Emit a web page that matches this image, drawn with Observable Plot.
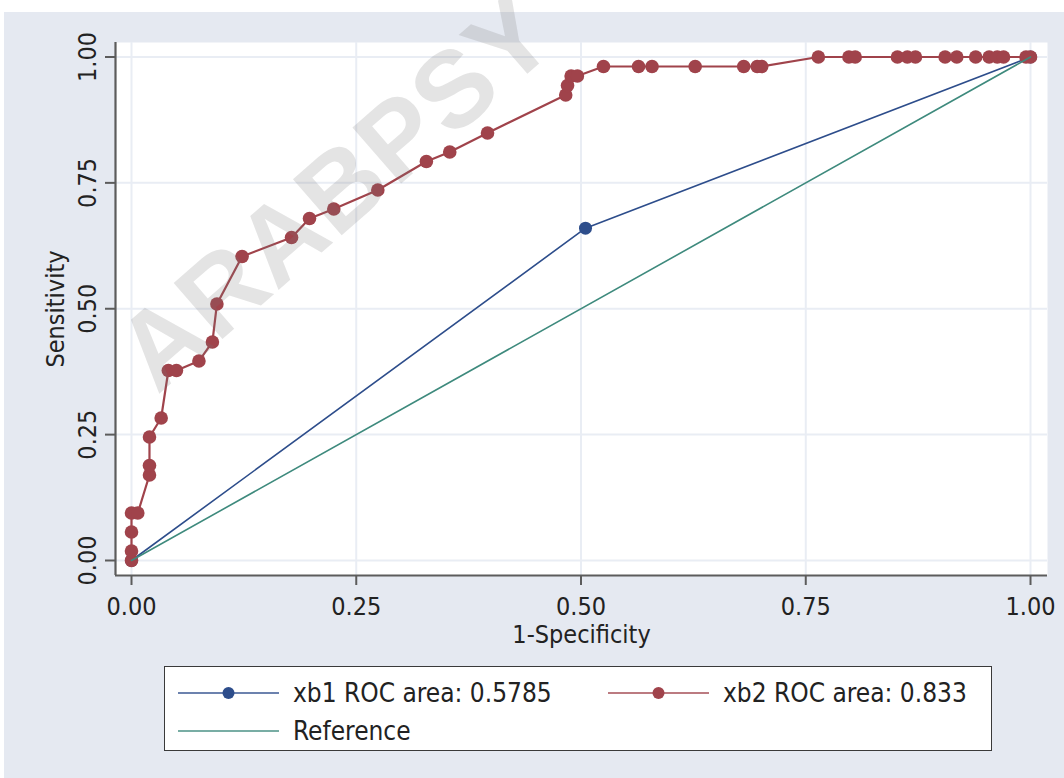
<!DOCTYPE html>
<html>
<head>
<meta charset="utf-8">
<script src="https://cdn.jsdelivr.net/npm/d3@7"></script>
<script src="https://cdn.jsdelivr.net/npm/@observablehq/plot@0.6"></script>
<style>
  html, body { margin: 0; padding: 0; background: #ffffff; width: 1064px; height: 778px; overflow: hidden; }
  #bg { position: absolute; left: 4px; top: 12px; width: 1060px; height: 766px; background: #e5e9f1; }
  #chart { position: absolute; left: 0; top: 0; }
  #legend { position: absolute; left: 164px; top: 666px; width: 828px; height: 85px; background: #fff;
            border: 1.5px solid #3a3a3a; box-sizing: border-box;
            font-family: "DejaVu Sans Condensed", "DejaVu Sans", sans-serif; font-stretch: condensed; font-size: 26px; color: #222; }
  .item { position: absolute; display: flex; align-items: center; height: 30px; }
  .item svg { margin-right: 14px; }
  #wm { position: absolute; left: 335px; top: 192px; transform: translate(-50%, -50%) rotate(-41deg);
        font-family: "Liberation Sans", Arial, sans-serif; font-weight: bold; font-size: 108px; line-height: 1;
        color: rgba(120,120,120,0.2); white-space: nowrap; pointer-events: none; letter-spacing: 1px; }
</style>
</head>
<body>
<div id="bg"></div>
<div id="chart"></div>
<div id="legend"></div>
<div id="wm">ARABPSY</div>
<script>
// ---- data ----
const xTicks = [0, 0.25, 0.5, 0.75, 1];
const yTicks = [0, 0.25, 0.5, 0.75, 1];
const xTitle = "1-Specificity";
const yTitle = "Sensitivity";

const xb1FPR  = [0, 0.505, 1];
const xb1Sens = [0, 0.660, 1];

const xb2FPR  = [0, 0, 0, 0, 0.007, 0.02, 0.02, 0.02, 0.033, 0.041, 0.05, 0.075, 0.09, 0.095, 0.123,
                 0.178, 0.198, 0.225, 0.274, 0.328, 0.354, 0.396, 0.483, 0.485, 0.489, 0.496,
                 0.525, 0.564, 0.579, 0.627, 0.681, 0.696, 0.701,
                 0.764, 0.798, 0.805, 0.852, 0.863, 0.872, 0.905, 0.918, 0.939, 0.954, 0.963, 0.970, 0.995, 1];
const xb2Sens = [0, 0.0189, 0.0566, 0.0943, 0.0943, 0.1698, 0.1887, 0.2453, 0.2830, 0.3774, 0.3774, 0.3962, 0.4340, 0.5094, 0.6038,
                 0.6415, 0.6792, 0.6981, 0.7358, 0.7925, 0.8113, 0.8491, 0.9245, 0.9434, 0.9623, 0.9623,
                 0.9811, 0.9811, 0.9811, 0.9811, 0.9811, 0.9811, 0.9811,
                 1, 1, 1, 1, 1, 1, 1, 1, 1, 1, 1, 1, 1, 1];

const refX = [0, 1];
const refY = [0, 1];

const legendLabels = ["xb1 ROC area: 0.5785", "xb2 ROC area: 0.833", "Reference"];

// ---- styles ----
const BLUE = "#2d4d8b";
const RED = "#a0434b";
const TEAL = "#3e8a7d";
const AXIS = "#5c5c5c";
const GRID = "#e9edf4";
const FONT = `"DejaVu Sans Condensed", "DejaVu Sans", sans-serif`;
const FS = 25;

const xb1 = xb1FPR.map((x, i) => ({x, y: xb1Sens[i]}));
const xb2 = xb2FPR.map((x, i) => ({x, y: xb2Sens[i]}));
const ref = refX.map((x, i) => ({x, y: refY[i]}));

const xDomain = [-0.0178, 1.0189];
const yDomain = [-0.0298, 1.0288];
const fmt = d3.format(".2f");

const chart = Plot.plot({
  width: 1064,
  height: 655,
  marginLeft: 115,
  marginRight: 17,
  marginTop: 42,
  marginBottom: 80,
  style: {background: "transparent", fontFamily: FONT, fontStretch: "condensed"},
  x: {domain: xDomain, axis: null},
  y: {domain: yDomain, axis: null},
  marks: [
    Plot.frame({fill: "white", stroke: null}),
    Plot.ruleX(xTicks, {stroke: GRID, strokeWidth: 2}),
    Plot.ruleY(yTicks, {stroke: GRID, strokeWidth: 2}),
    Plot.line(xb1, {x: "x", y: "y", stroke: BLUE, strokeWidth: 1.6}),
    Plot.dot(xb1, {x: "x", y: "y", r: 6.5, fill: BLUE, stroke: null}),
    Plot.line(xb2, {x: "x", y: "y", stroke: RED, strokeWidth: 2.2}),
    Plot.dot(xb2, {x: "x", y: "y", r: 6.8, fill: RED, stroke: null}),
    Plot.line(ref, {x: "x", y: "y", stroke: TEAL, strokeWidth: 1.6}),
    Plot.ruleX([xDomain[0]], {stroke: AXIS, strokeWidth: 2.2}),
    Plot.ruleY([yDomain[0]], {stroke: AXIS, strokeWidth: 2.2}),
    Plot.axisX(xTicks, {anchor: "bottom", tickSize: 10, tickFormat: () => "", label: null, color: AXIS, strokeWidth: 2}),
    Plot.axisY(yTicks, {anchor: "left", tickSize: 10, tickFormat: () => "", label: null, color: AXIS, strokeWidth: 2}),
    Plot.text(xTicks, {x: d => d, text: d => fmt(d), frameAnchor: "bottom", lineAnchor: "middle", dy: 31, fontSize: FS, fill: "#222"}),
    Plot.text(yTicks, {y: d => d, text: d => fmt(d), frameAnchor: "left", textAnchor: "middle", lineAnchor: "middle", dx: -28, rotate: -90, fontSize: FS, fill: "#222"}),
    Plot.text([xTitle], {text: d => d, frameAnchor: "bottom", lineAnchor: "middle", dy: 59, fontSize: FS, fill: "#222"}),
    Plot.text([yTitle], {text: d => d, frameAnchor: "left", textAnchor: "middle", lineAnchor: "middle", dx: -60, rotate: -90, fontSize: FS, fill: "#222"})
  ]
});
document.getElementById("chart").appendChild(chart);

// ---- legend ----
const legend = document.getElementById("legend");
const items = [
  {label: legendLabels[0], color: BLUE, dot: true, left: 13, top: 11},
  {label: legendLabels[1], color: RED, dot: true, left: 443, top: 11},
  {label: legendLabels[2], color: TEAL, dot: false, left: 13, top: 49}
];
for (const it of items) {
  const div = document.createElement("div");
  div.className = "item";
  div.style.left = it.left + "px";
  div.style.top = it.top + "px";
  const svg = d3.create("svg").attr("width", 101).attr("height", 16);
  svg.append("line").attr("x1", 0).attr("x2", 101).attr("y1", 8).attr("y2", 8)
     .attr("stroke", it.color).attr("stroke-width", 2).attr("stroke-opacity", 0.7);
  if (it.dot) svg.append("circle").attr("cx", 50.5).attr("cy", 8).attr("r", 6).attr("fill", it.color);
  div.appendChild(svg.node());
  const span = document.createElement("span");
  span.textContent = it.label;
  div.appendChild(span);
  legend.appendChild(div);
}
</script>
</body>
</html>
